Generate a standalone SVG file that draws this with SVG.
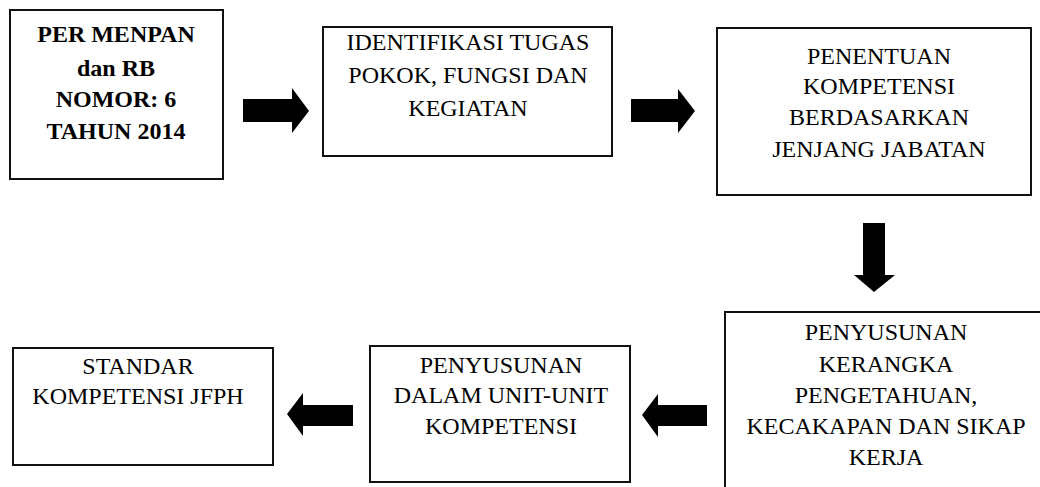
<svg xmlns="http://www.w3.org/2000/svg" width="1040" height="487" viewBox="0 0 1040 487">
<style>
.box{fill:#fff;stroke:#111;stroke-width:2}
.t{font-family:"Liberation Serif","Times New Roman",serif;font-size:24px;fill:#000;text-anchor:middle}
.b{font-weight:bold}
.arr{fill:#000}
</style>
<rect width="1040" height="487" fill="#fff"/>
<g id="n1">
<rect class="box" x="10" y="10" width="213" height="169"/>
<text class="t b" x="116" y="42">PER MENPAN</text>
<text class="t b" x="116" y="76">dan RB</text>
<text class="t b" x="116" y="107">NOMOR: 6</text>
<text class="t b" x="116" y="139">TAHUN 2014</text>
</g>
<g id="n2">
<rect class="box" x="323" y="27" width="289" height="129"/>
<text class="t" x="468" y="50">IDENTIFIKASI TUGAS</text>
<text class="t" x="468" y="83">POKOK, FUNGSI DAN</text>
<text class="t" x="468" y="116">KEGIATAN</text>
</g>
<g id="n3">
<rect class="box" x="717" y="28" width="314" height="167"/>
<text class="t" x="879" y="64">PENENTUAN</text>
<text class="t" x="879" y="94">KOMPETENSI</text>
<text class="t" x="879" y="125">BERDASARKAN</text>
<text class="t" x="879" y="157">JENJANG JABATAN</text>
</g>
<g id="n4">
<rect class="box" x="725" y="312" width="330" height="190"/>
<text class="t" x="886" y="340">PENYUSUNAN</text>
<text class="t" x="886" y="372">KERANGKA</text>
<text class="t" x="886" y="403">PENGETAHUAN,</text>
<text class="t" x="886" y="434">KECAKAPAN DAN SIKAP</text>
<text class="t" x="886" y="465">KERJA</text>
</g>
<g id="n5">
<rect class="box" x="370" y="346" width="260" height="136"/>
<text class="t" x="501" y="373">PENYUSUNAN</text>
<text class="t" x="501" y="403">DALAM UNIT-UNIT</text>
<text class="t" x="501" y="434">KOMPETENSI</text>
</g>
<g id="n6">
<rect class="box" x="13" y="348" width="260" height="117"/>
<text class="t" x="138" y="374">STANDAR</text>
<text class="t" x="138" y="404">KOMPETENSI JFPH</text>
</g>
<g id="connectors">
<polygon class="arr" points="243,99 292,99 292,88 309,111 292,133 292,122 243,122"/>
<polygon class="arr" points="631,99 678,99 678,89 695,111 678,133 678,122 631,122"/>
<polygon class="arr" points="863,223 885,223 885,275 895,275 874,292 854,275 863,275"/>
<polygon class="arr" points="707,405 658,405 658,394 642,415 658,437 658,426 707,426"/>
<polygon class="arr" points="353,405 303,405 303,393 287,414 303,436 303,426 353,426"/>
</g>
</svg>
